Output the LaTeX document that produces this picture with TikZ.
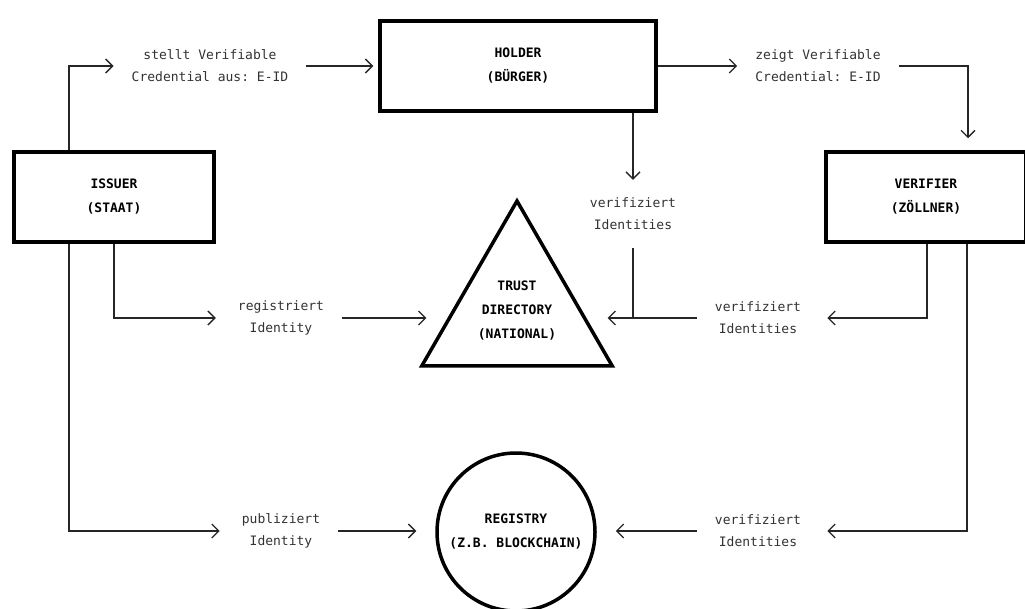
\documentclass[tikz,border=0pt]{standalone}
\usepackage{fontspec}
\setmonofont{DejaVu Sans Mono}
\usetikzlibrary{arrows.meta, shapes.geometric}
\tikzset{
  actor node/.style={
    draw,
    line width=3.5pt,
    align=center,
    inner sep=0pt,
    font=\ttfamily\bfseries\fontsize{13}{24}\selectfont,
  },
  flow label/.style={
    align=center,
    inner sep=18pt,
    text=black!80,
    font=\ttfamily\fontsize{13}{22}\selectfont,
  },
  link/.style={
    line width=1.3pt,
    draw=black!85,
  },
  flow/.style={
    link,
    -{Straight Barb[length=7pt,width=14pt]},
  },
}

\begin{document}
\begin{tikzpicture}[x=1pt, y=-1pt]
  \useasboundingbox (0,0) rectangle (1025,609);

  \node[actor node, minimum width=200pt, minimum height=90pt] (issuer)   at (114,197) {ISSUER\\(STAAT)};
  \node[actor node, minimum width=276pt, minimum height=90pt] (holder)   at (518,66)  {HOLDER\\(BÜRGER)};
  \node[actor node, minimum width=200pt, minimum height=90pt] (verifier) at (926,197) {VERIFIER\\(ZÖLLNER)};
  \node[actor node, regular polygon, regular polygon sides=3, minimum size=220pt] (trust) at (517,311) {};
  \node[align=center, font=\ttfamily\bfseries\fontsize{13}{24}\selectfont] (trusttext) at (trust.center) {TRUST\\DIRECTORY\\(NATIONAL)};
  \node[actor node, circle, minimum size=158pt] (registry) at (516,532) {REGISTRY\\(Z.B. BLOCKCHAIN)};

  \node[flow label] (lblCred)     at (210,66)  {stellt Verifiable\\Credential aus: E-ID};
  \node[flow label] (lblShow)     at (818,66)  {zeigt Verifiable\\Credential: E-ID};
  \node[flow label] (lblVerTop)   at (633,214) {verifiziert\\Identities};
  \node[flow label] (lblReg)      at (281,318) {registriert\\Identity};
  \node[flow label] (lblVerTrust) at (758,318) {verifiziert\\Identities};
  \node[flow label] (lblPub)      at (281,531) {publiziert\\Identity};
  \node[flow label] (lblVerReg)   at (758,531) {verifiziert\\Identities};

  % top row
  \draw[flow]                  ([xshift=-45pt]issuer.north) |- (lblCred);
  \draw[flow, shorten >=5pt]   (lblCred) -- (holder);
  \draw[flow]                  (holder) -- (lblShow);
  \draw[flow, shorten >=12pt]  (lblShow) -| ([xshift=42pt]verifier.north);

  % into the trust directory
  \draw[flow]                  ([xshift=115pt]holder.south) -- (lblVerTop);
  \draw[link]                  (lblVerTop) -- (lblVerTop |- lblVerTrust);
  \draw[flow, shorten >=8pt]   ([xshift=1pt]verifier.south) |- (lblVerTrust);
  \draw[flow, shorten >=25pt]  (lblVerTrust) -- (lblVerTrust -| trust.east);
  \draw[flow, shorten >=4pt]   (issuer.south) |- (lblReg);
  \draw[flow, shorten >=25pt]  (lblReg) -- (lblReg -| trust.west);

  % into the registry
  \draw[flow, shorten >=4pt]   ([xshift=-45pt]issuer.south) |- (lblPub);
  \draw[flow, shorten >=19pt]  (lblPub) -- (lblPub -| registry.west);
  \draw[flow, shorten >=8pt]   ([xshift=41pt]verifier.south) |- (lblVerReg);
  \draw[flow, shorten >=19pt]  (lblVerReg) -- (lblVerReg -| registry.east);
\end{tikzpicture}
\end{document}
